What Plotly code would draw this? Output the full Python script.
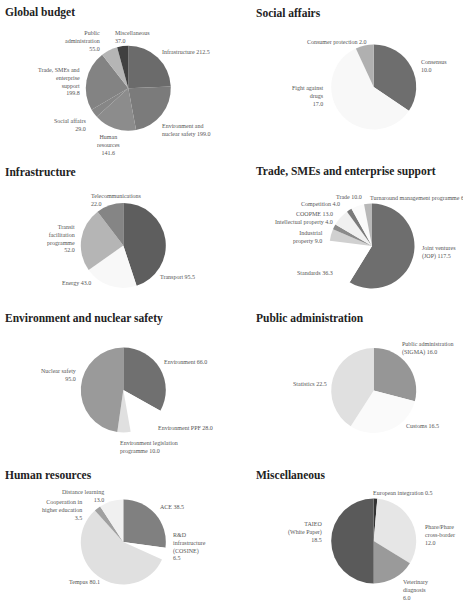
import plotly.graph_objects as go

W, H = 463, 602

# ---------------- data ----------------
titles = ["Global budget", "Social affairs", "Infrastructure",
          "Trade, SMEs and enterprise support", "Environment and nuclear safety",
          "Public administration", "Human resources", "Miscellaneous"]

global_labels = ["Infrastructure", "Environment and<br>nuclear safety", "Human<br>resources",
                 "Social affairs", "Trade, SMEs and<br>enterprise<br>support",
                 "Public<br>administration", "Miscellaneous"]
global_values = [212.5, 199.0, 141.6, 29.0, 199.8, 55.0, 37.0]

social_labels = ["Consensus", "Fight against<br>drugs", "Consumer protection"]
social_values = [10.0, 17.0, 2.0]

infra_labels = ["Transport", "Energy", "Transit<br>facilitation<br>programme", "Telecommunications"]
infra_values = [95.5, 43.0, 52.0, 22.0]

trade_labels = ["Joint ventures<br>(JOP)", "Standards", "Industrial<br>property",
                "Intellectual property", "COOPME", "Competition", "Trade",
                "Turnaround management programme"]
trade_values = [117.5, 36.3, 9.0, 4.0, 13.0, 4.0, 10.0, 6.0]

env_labels = ["Environment", "Environment PPF", "Environment legislation<br>programme", "Nuclear safety"]
env_values = [66.0, 28.0, 10.0, 95.0]

pub_labels = ["Public administration<br>(SIGMA)", "Customs", "Statistics"]
pub_values = [16.0, 16.5, 22.5]

hr_labels = ["ACE", "R&D<br>infrastructure<br>(COSINE)", "Tempus",
             "Cooperation in<br>higher education", "Distance learning"]
hr_values = [38.5, 6.5, 80.1, 3.5, 13.0]

misc_labels = ["European integration", "Phare/Phare<br>cross-border",
               "Veterinary<br>diagnosis", "TAIEO<br>(White Paper)"]
misc_values = [0.5, 12.0, 6.0, 18.5]

# ---------------- styles / layout ----------------
colors = [
    ["#6b6b6b", "#7b7b7b", "#8c8c8c", "#868686", "#838383", "#b5b5b5", "#404040"],
    ["#6e6e6e", "#f8f8f8", "#b0b0b0"],
    ["#5e5e5e", "#f8f8f8", "#b5b5b5", "#858585"],
    ["#6e6e6e", "#ffffff", "#d0d0d0", "#8a8a8a", "#f0f0f0", "#7a7a7a", "#fafafa", "#b8b8b8"],
    ["#707070", "#ffffff", "#e0e0e0", "#9a9a9a"],
    ["#969696", "#fafafa", "#e0e0e0"],
    ["#808080", "#ffffff", "#e0e0e0", "#a0a0a0", "#f0f0f0"],
    ["#333333", "#e6e6e6", "#9a9a9a", "#5a5a5a"],
]

centers = [(128.3, 88.3), (373.7, 87.0), (123.3, 245.5), (372.0, 246.0),
           (123.3, 390.0), (373.7, 390.5), (123.3, 542.0), (373.7, 541.0)]
R = 42.5

title_pos = [(2.7, 12.7), (253.7, 12.7), (2.7, 171.7), (253.7, 171.7),
             (2.7, 318.3), (253.7, 318.3), (2.7, 475.0), (253.7, 475.0)]

# (x, y, anchor, separator between label and value)
label_pos = [
    [(160, 52.3, "left", " "), (160, 129.7, "left", " "), (108.3, 145, "center", "<br>"),
     (88.3, 125, "right", "<br>"), (81.7, 81.2, "right", "<br>"),
     (101.7, 40.7, "right", "<br>"), (113.3, 37, "left", "<br>")],
    [(418.7, 66.2, "left", "<br>"), (326, 95.7, "right", "<br>"), (304.7, 41.7, "left", " ")],
    [(158.3, 276.7, "left", " "), (92.7, 283.3, "right", " "),
     (77.3, 238.7, "right", "<br>"), (89.3, 200, "left", "<br>")],
    [(420.3, 252.2, "left", " "), (294.7, 272.7, "left", " "), (325.3, 237.3, "right", " "),
     (334.7, 222.3, "right", " "), (335.3, 214, "right", " "), (342, 204.3, "right", " "),
     (333.7, 197, "left", " "), (368, 197.5, "left", " ")],
    [(162.3, 361.7, "left", " "), (156, 428.3, "left", " "),
     (117.7, 446.7, "left", " "), (77.7, 375.3, "right", "<br>")],
    [(399.7, 348.7, "left", " "), (403.7, 425.7, "left", " "), (328.7, 384, "right", " ")],
    [(157.7, 507.3, "left", " "), (170.7, 546.7, "left", "<br>"), (101.7, 581.7, "right", " "),
     (84, 509.7, "right", "<br>"), (106, 495.8, "right", "<br>")],
    [(371, 493.3, "left", " "), (422.7, 535, "left", "<br>"),
     (401.3, 589.7, "left", "<br>"), (323.7, 531.7, "right", "<br>")],
]

panels = [
    (global_labels, global_values), (social_labels, social_values),
    (infra_labels, infra_values), (trade_labels, trade_values),
    (env_labels, env_values), (pub_labels, pub_values),
    (hr_labels, hr_values), (misc_labels, misc_values),
]

FONT = "Liberation Serif"
fig = go.Figure()
annotations = []

for i, (labels, values) in enumerate(panels):
    cx, cy = centers[i]
    fig.add_trace(go.Pie(
        labels=[l.replace("<br>", " ") for l in labels],
        values=values,
        sort=False,
        direction="clockwise",
        rotation=0,
        textinfo="none",
        hoverinfo="label+value",
        marker=dict(colors=colors[i], line=dict(width=0)),
        domain=dict(x=[(cx - R) / W, (cx + R) / W],
                    y=[1 - (cy + R) / H, 1 - (cy - R) / H]),
        showlegend=False,
    ))
    for (lab, val, (x, y, anc, sep)) in zip(labels, values, label_pos[i]):
        annotations.append(dict(
            x=x / W, y=1 - y / H, xref="paper", yref="paper",
            text=f"{lab}{sep}{val:.1f}", showarrow=False,
            xanchor=anc, yanchor="middle", align=anc,
            font=dict(family=FONT, size=6, color="#555555"),
        ))
    tx, ty = title_pos[i]
    annotations.append(dict(
        x=tx / W, y=1 - ty / H, xref="paper", yref="paper",
        text=f"<b>{titles[i]}</b>", showarrow=False,
        xanchor="left", yanchor="middle", align="left",
        font=dict(family=FONT, size=11.5, color="#222222"),
    ))

fig.update_layout(
    width=W, height=H,
    margin=dict(l=0, r=0, t=0, b=0),
    paper_bgcolor="white", plot_bgcolor="white",
    annotations=annotations,
)

fig.write_html("out.html")
